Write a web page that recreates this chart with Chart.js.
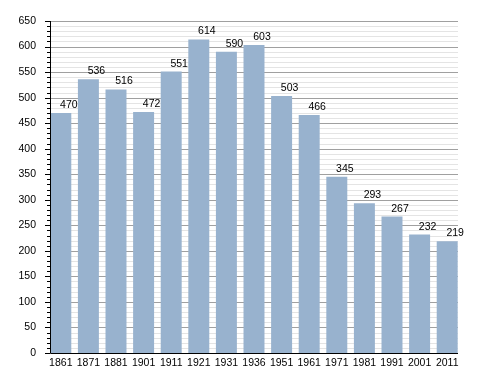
<!DOCTYPE html>
<html>
<head>
<meta charset="utf-8">
<script src="https://cdn.jsdelivr.net/npm/chart.js@4/dist/chart.umd.min.js"></script>
<style>
  html, body { margin: 0; padding: 0; background: #fff; }
  #wrap { width: 488px; height: 373px; }
</style>
</head>
<body>
<div id="wrap"><canvas id="pop"></canvas></div>
<script>
const years = ['1861', '1871', '1881', '1901', '1911', '1921', '1931', '1936', '1951', '1961', '1971', '1981', '1991', '2001', '2011'];
const population = [470, 536, 516, 472, 551, 614, 590, 603, 503, 466, 345, 293, 267, 232, 219];
const yMax = 650;
const yMajorStep = 50;
const yMinorStep = 10;

const barColor = 'rgb(152, 178, 206)';
const fontFamily = '"Liberation Sans", Arial, sans-serif';

// the axis box sits a bit inside the category area, so draw grid + axes by hand
const axisX0 = 50, axisX1 = 458;

const frame = {
  id: 'frame',
  beforeDatasetsDraw(chart) {
    const ctx = chart.ctx;
    const y = chart.scales.y;
    ctx.save();
    ctx.lineWidth = 1;
    for (let v = yMinorStep; v <= yMax; v += yMinorStep) {
      const py = Math.round(y.getPixelForValue(v)) + 0.5;
      ctx.strokeStyle = v % yMajorStep === 0 ? '#a0a0a0' : '#e4e4e4';
      ctx.beginPath();
      ctx.moveTo(axisX0, py);
      ctx.lineTo(axisX1, py);
      ctx.stroke();
    }
    ctx.restore();
  },
  afterDatasetsDraw(chart) {
    const ctx = chart.ctx;
    const y = chart.scales.y;
    const bottom = Math.round(y.getPixelForValue(0)) + 0.5;
    const top = Math.round(y.getPixelForValue(yMax));
    ctx.save();
    ctx.strokeStyle = '#000';
    ctx.lineWidth = 1;
    ctx.beginPath();
    ctx.moveTo(axisX0 + 0.5, top);
    ctx.lineTo(axisX0 + 0.5, bottom);
    ctx.lineTo(axisX1, bottom);
    ctx.stroke();
    for (let v = 0; v <= yMax; v += yMinorStep) {
      const py = Math.round(y.getPixelForValue(v)) + 0.5;
      const len = v % yMajorStep === 0 ? 5 : 3;
      ctx.beginPath();
      ctx.moveTo(axisX0 - len, py);
      ctx.lineTo(axisX0, py);
      ctx.stroke();
    }
    // value labels above the bars
    const meta = chart.getDatasetMeta(0);
    ctx.fillStyle = '#000';
    ctx.font = '10.5px ' + fontFamily;
    ctx.textAlign = 'center';
    ctx.textBaseline = 'alphabetic';
    meta.data.forEach((bar, i) => {
      ctx.fillText(String(population[i]), bar.x + 8, bar.y - 5);
    });
    ctx.restore();
  }
};

new Chart(document.getElementById('pop').getContext('2d'), {
  type: 'bar',
  data: {
    labels: years,
    datasets: [{
      data: population,
      backgroundColor: barColor,
      borderWidth: 0,
      categoryPercentage: 1,
      barPercentage: 0.76
    }]
  },
  options: {
    responsive: true,
    maintainAspectRatio: false,
    animation: false,
    layout: { padding: { top: 21, right: 27, bottom: 2, left: 0 } },
    plugins: {
      legend: { display: false },
      tooltip: { enabled: false }
    },
    scales: {
      x: {
        grid: { display: false, drawTicks: false, tickLength: 0 },
        border: { display: false },
        ticks: {
          color: '#000',
          font: { family: fontFamily, size: 10.5 },
          maxRotation: 0,
          autoSkip: false,
          padding: 4
        },
        afterFit(scale) { scale.height = 18; }
      },
      y: {
        min: 0,
        max: yMax,
        border: { display: false },
        grid: { display: false, drawTicks: false, tickLength: 0 },
        ticks: {
          stepSize: yMinorStep,
          autoSkip: false,
          color: '#000',
          padding: 11,
          font: { family: fontFamily, size: 10.5 },
          callback: v => (v % yMajorStep === 0 ? v : '')
        },
        afterFit(scale) { scale.width = 47; }
      }
    }
  },
  plugins: [frame]
});
</script>
</body>
</html>
